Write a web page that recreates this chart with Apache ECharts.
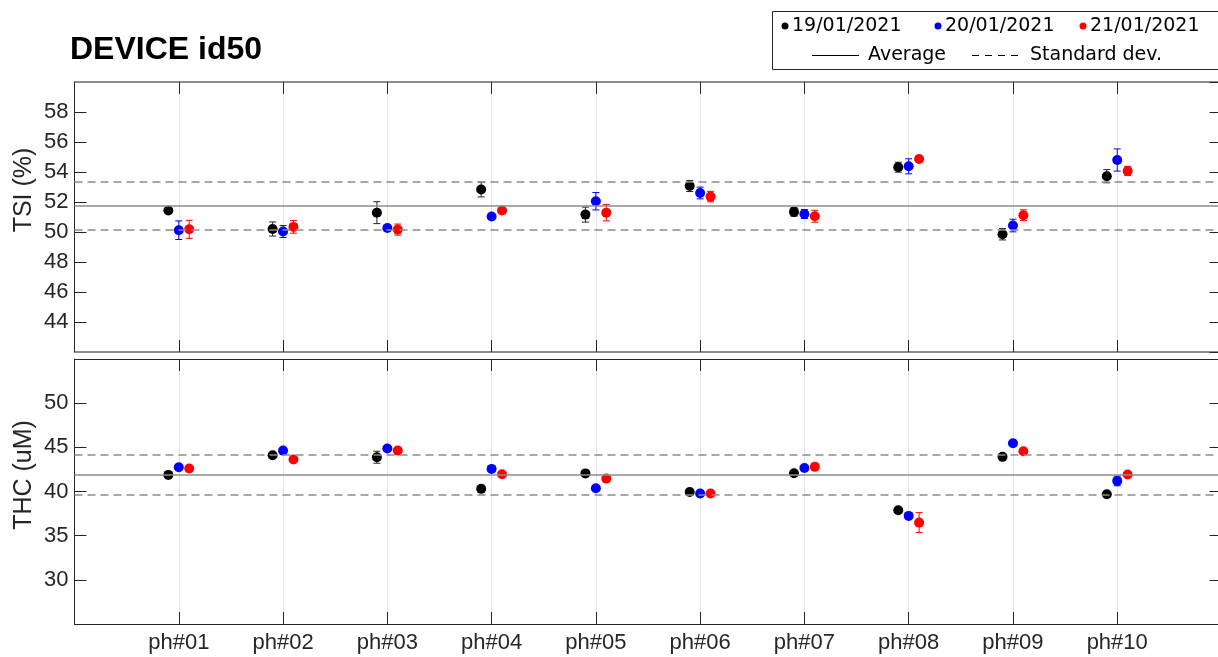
<!DOCTYPE html>
<html><head><meta charset="utf-8">
<script src="https://cdn.jsdelivr.net/npm/echarts@6/dist/echarts.min.js"></script>
<style>html,body{margin:0;padding:0;width:1218px;height:657px;overflow:hidden;background:#fff}#c{width:1240px;height:657px}</style>
</head><body><div id="c"></div>
<script>
const categories = ['ph#01','ph#02','ph#03','ph#04','ph#05','ph#06','ph#07','ph#08','ph#09','ph#10'];
const dates = ['19/01/2021','20/01/2021','21/01/2021'];

const tsi19    = [51.43, 50.20, 51.29, 52.83, 51.16, 53.07, 51.34, 54.32, 49.85, 53.72];
const tsi19Err = [0.15, 0.47, 0.73, 0.49, 0.50, 0.37, 0.29, 0.33, 0.38, 0.44];
const tsi20    = [50.12, 50.03, 50.27, 51.03, 52.05, 52.60, 51.20, 54.38, 50.43, 54.80];
const tsi20Err = [0.62, 0.40, 0.20, 0.15, 0.58, 0.39, 0.30, 0.50, 0.42, 0.74];
const tsi21    = [50.18, 50.34, 50.16, 51.43, 51.29, 52.36, 51.05, 54.87, 51.12, 54.07];
const tsi21Err = [0.60, 0.42, 0.37, 0.15, 0.55, 0.35, 0.40, 0.15, 0.36, 0.31];
const tsiAverage = 51.76, tsiStd = 1.60;

const thc19    = [41.88, 44.10, 43.88, 40.30, 42.05, 39.95, 42.07, 37.88, 43.92, 39.69];
const thc19Err = [0.20, 0.20, 0.68, 0.20, 0.20, 0.20, 0.20, 0.20, 0.20, 0.20];
const thc20    = [42.75, 44.63, 44.86, 42.56, 40.37, 39.77, 42.67, 37.24, 45.46, 41.20];
const thc20Err = [0.20, 0.20, 0.20, 0.20, 0.20, 0.20, 0.20, 0.20, 0.20, 0.55];
const thc21    = [42.60, 43.62, 44.63, 41.96, 41.46, 39.77, 42.79, 36.48, 44.56, 41.92];
const thc21Err = [0.20, 0.20, 0.20, 0.20, 0.20, 0.20, 0.20, 1.13, 0.20, 0.20];
const thcAverage = 41.90, thcStd = 2.27;

const FONT = '"Liberation Sans", Arial, Helvetica, sans-serif';
const AX = '#262626';
const colors = ['#000000', '#0000ff', '#ff0000'];
const errColors = ['#262626', '#0000ff', '#ff0000'];
const offsets = [-0.1, 0, 0.1];

const panels = [
  {values: [tsi19, tsi20, tsi21], errs: [tsi19Err, tsi20Err, tsi21Err], avg: tsiAverage, std: tsiStd, xi: 0, yi: 0},
  {values: [thc19, thc20, thc21], errs: [thc19Err, thc20Err, thc21Err], avg: thcAverage, std: thcStd, xi: 2, yi: 2}
];

function renderErr(params, api) {
  const x = api.value(0), y = api.value(1), e = api.value(2);
  const t = api.coord([x, y + e]), b = api.coord([x, y - e]);
  const hw = 3.5;
  const style = {stroke: api.visual('color'), lineWidth: 1};
  return {type: 'group', children: [
    {type: 'line', shape: {x1: t[0], y1: t[1], x2: b[0], y2: b[1]}, style: style},
    {type: 'line', shape: {x1: t[0] - hw, y1: t[1], x2: t[0] + hw, y2: t[1]}, style: style},
    {type: 'line', shape: {x1: b[0] - hw, y1: b[1], x2: b[0] + hw, y2: b[1]}, style: style}
  ]};
}

function xAx(gridIndex, pos, showLabels, lineColor, lineWidth) {
  return {type: 'value', gridIndex: gridIndex, position: pos, min: 0, max: 11, interval: 1,
    axisLine: {show: true, onZero: false, lineStyle: {color: lineColor, width: lineWidth}},
    axisTick: {show: true, inside: true, length: 12, lineStyle: {color: AX, width: 1}},
    axisLabel: {show: showLabels, formatter: v => (v >= 1 && v <= categories.length) ? categories[v - 1] : '',
      fontFamily: FONT, fontSize: 22, color: AX, margin: 8},
    splitLine: {show: pos === 'bottom', lineStyle: {color: '#e2e2e2', width: 1}}
  };
}
function yAx(gridIndex, pos, min, max, interval, showLabels) {
  return {type: 'value', gridIndex: gridIndex, position: pos, min: min, max: max, interval: interval,
    axisLine: {show: true, onZero: false, lineStyle: {color: AX, width: 1}},
    axisTick: {show: true, inside: true, length: 12, lineStyle: {color: AX, width: 1}},
    axisLabel: {show: showLabels, showMinLabel: false, showMaxLabel: false, fontFamily: FONT, fontSize: 22, color: AX, margin: 6},
    splitLine: {show: false}
  };
}

const series = [];
panels.forEach(p => {
  p.values.forEach((vals, k) => {
    series.push({
      type: 'custom', xAxisIndex: p.xi, yAxisIndex: p.yi, renderItem: renderErr,
      encode: {x: 0, y: 1}, itemStyle: {color: errColors[k]}, z: 3, silent: true,
      data: vals.map((v, i) => [i + 1 + offsets[k], v, p.errs[k][i]])
    });
  });
  p.values.forEach((vals, k) => {
    const s = {
      type: 'scatter', name: dates[k], xAxisIndex: p.xi, yAxisIndex: p.yi, symbolSize: 10, z: 4,
      itemStyle: {color: colors[k], opacity: 1},
      data: vals.map((v, i) => [i + 1 + offsets[k], v])
    };
    if (k === 0) {
      s.markLine = {silent: true, symbol: 'none', label: {show: false}, animation: false,
        lineStyle: {color: '#8c8c8c', width: 1.5},
        data: [
          {yAxis: p.avg, lineStyle: {type: 'solid', color: '#8c8c8c', width: 1.5}},
          {yAxis: p.avg + p.std, lineStyle: {type: [8, 5], color: '#8c8c8c', width: 1.5}},
          {yAxis: p.avg - p.std, lineStyle: {type: [8, 5], color: '#8c8c8c', width: 1.5}}
        ]};
    }
    series.push(s);
  });
});

const LF = '19px "DejaVu Sans", sans-serif';
const graphic = [
  {type: 'rect', shape: {x: 772.5, y: 11.5, width: 470, height: 58}, style: {fill: '#fff', stroke: AX, lineWidth: 1}, z: 10},
  {type: 'circle', shape: {cx: 785, cy: 26, r: 3.5}, style: {fill: colors[0]}, z: 11},
  {type: 'text', x: 792, y: 26, style: {text: dates[0], font: LF, fill: '#000', align: 'left', verticalAlign: 'middle', textAlign: 'left', textVerticalAlign: 'middle'}, z: 11},
  {type: 'circle', shape: {cx: 938, cy: 26, r: 3.5}, style: {fill: colors[1]}, z: 11},
  {type: 'text', x: 945, y: 26, style: {text: dates[1], font: LF, fill: '#000', align: 'left', verticalAlign: 'middle', textAlign: 'left', textVerticalAlign: 'middle'}, z: 11},
  {type: 'circle', shape: {cx: 1083, cy: 26, r: 3.5}, style: {fill: colors[2]}, z: 11},
  {type: 'text', x: 1090, y: 26, style: {text: dates[2], font: LF, fill: '#000', align: 'left', verticalAlign: 'middle', textAlign: 'left', textVerticalAlign: 'middle'}, z: 11},
  {type: 'line', shape: {x1: 812, y1: 55.5, x2: 859, y2: 55.5}, style: {stroke: '#000', lineWidth: 1}, z: 11},
  {type: 'text', x: 868, y: 55, style: {text: 'Average', font: LF, fill: '#000', align: 'left', verticalAlign: 'middle', textAlign: 'left', textVerticalAlign: 'middle'}, z: 11},
  {type: 'line', shape: {x1: 972, y1: 55.5, x2: 1019, y2: 55.5}, style: {stroke: '#000', lineWidth: 1, lineDash: [7, 6]}, z: 11},
  {type: 'text', x: 1030, y: 55, style: {text: 'Standard dev.', font: LF, fill: '#000', align: 'left', verticalAlign: 'middle', textAlign: 'left', textVerticalAlign: 'middle'}, z: 11},
  {type: 'text', x: 24, y: 190, rotation: Math.PI / 2, style: {text: 'TSI (%)', font: '25px "Liberation Sans", Arial, sans-serif', fill: AX, align: 'center', verticalAlign: 'middle', textAlign: 'center', textVerticalAlign: 'middle'}, z: 11},
  {type: 'text', x: 24, y: 475, rotation: Math.PI / 2, style: {text: 'THC (uM)', font: '25px "Liberation Sans", Arial, sans-serif', fill: AX, align: 'center', verticalAlign: 'middle', textAlign: 'center', textVerticalAlign: 'middle'}, z: 11}
];

const chart = echarts.init(document.getElementById('c'), null, {renderer: 'canvas'});
chart.setOption({
  animation: false,
  backgroundColor: '#fff',
  title: {text: 'DEVICE id50', left: 70, top: 34, padding: 0,
    textStyle: {fontFamily: FONT, fontWeight: 'bold', fontSize: 32, color: '#000'}},
  grid: [
    {left: 74.5, top: 82, width: 1147, height: 270, containLabel: false},
    {left: 74.5, top: 359, width: 1147, height: 265, containLabel: false}
  ],
  xAxis: [
    xAx(0, 'bottom', false, '#8c8c8c', 2),
    xAx(0, 'top', false, '#8c8c8c', 2),
    xAx(1, 'bottom', true, AX, 1),
    xAx(1, 'top', false, AX, 1)
  ],
  yAxis: [
    yAx(0, 'left', 42, 60, 2, true),
    yAx(0, 'right', 42, 60, 2, false),
    yAx(1, 'left', 25, 55, 5, true),
    yAx(1, 'right', 25, 55, 5, false)
  ],
  series: series,
  graphic: graphic
});
</script></body></html>
